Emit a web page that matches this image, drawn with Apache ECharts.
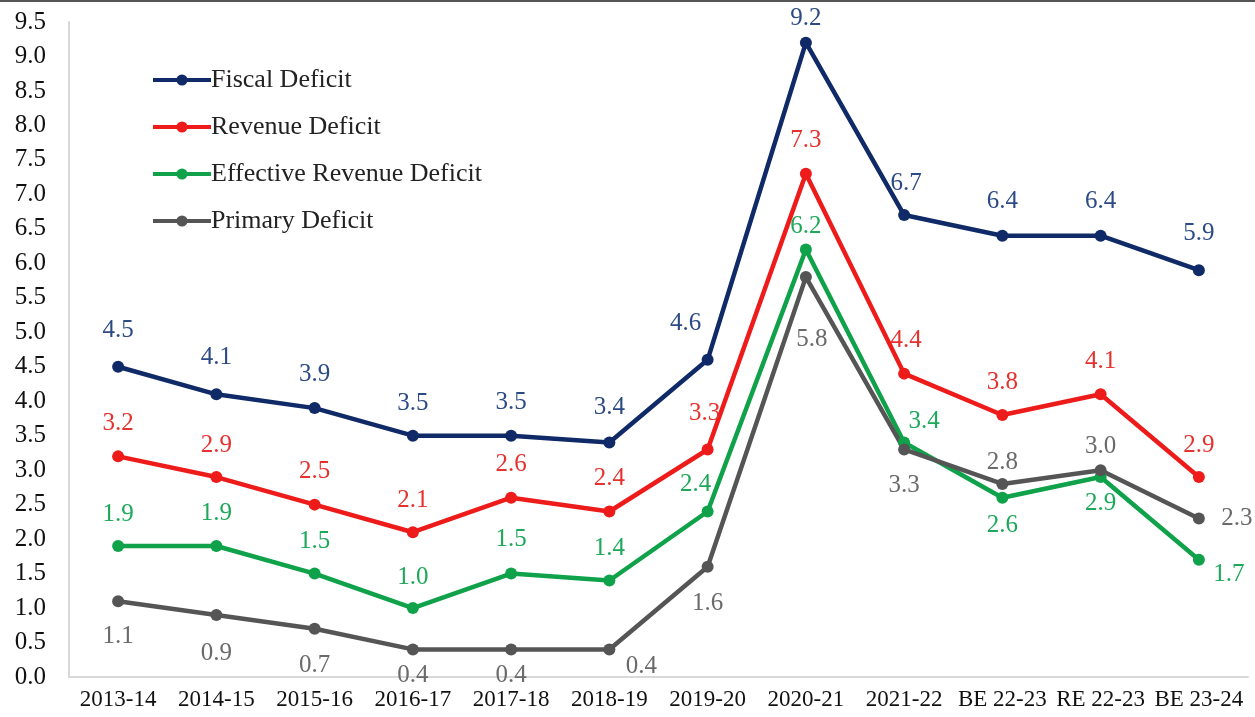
<!DOCTYPE html>
<html><head><meta charset="utf-8">
<script src="https://cdn.jsdelivr.net/npm/echarts@6/dist/echarts.min.js"></script>
<style>html,body{margin:0;padding:0;background:#fff}#c{width:1255px;height:717px}</style>
</head><body><div id="c"></div>
<script>
const categories = ['2013-14','2014-15','2015-16','2016-17','2017-18','2018-19','2019-20','2020-21','2021-22','BE 22-23','RE 22-23','BE 23-24'];
const fiscalDeficit = [4.5,4.1,3.9,3.5,3.5,3.4,4.6,9.2,6.7,6.4,6.4,5.9];
const revenueDeficit = [3.2,2.9,2.5,2.1,2.6,2.4,3.3,7.3,4.4,3.8,4.1,2.9];
const effectiveRevenueDeficit = [1.9,1.9,1.5,1.0,1.5,1.4,2.4,6.2,3.4,2.6,2.9,1.7];
const primaryDeficit = [1.1,0.9,0.7,0.4,0.4,0.4,1.6,5.8,3.3,2.8,3.0,2.3];
const yTicks = {min:0, max:9.5, interval:0.5};

// label offsets (pixels from point centre) — styling only
const fdOff = [[0,-36],[0,-37],[0,-34],[0,-32],[0,-33],[0,-35],[-22,-36],[0,-24],[2,-32],[0,-34],[0,-34],[0,-37]];
const rdOff = [[0,-33],[0,-32],[0,-33],[0,-32],[0,-33],[0,-33],[-3,-36],[0,-33],[2,-33],[0,-33],[0,-33],[0,-32]];
const erdOff = [[0,-32],[0,-33],[0,-32],[0,-31],[0,-34],[0,-32],[-12,-27],[0,-23],[20,-21],[0,28],[0,26],[30,15]];
const pdOff = [[0,35],[0,38],[0,37],[0,26],[0,26],[32,17],[0,37],[6,62],[0,36],[0,-22],[0,-24],[38,0]];

function build(vals, off){
  return vals.map((v,i)=>({value:v, label:{position:'inside', offset:off[i]}}));
}
const font = 'Liberation Serif';
function series(name, vals, off, color, labColor){
  return {
    name, type:'line', data: build(vals,off), symbol:'circle', symbolSize:12,
    lineStyle:{width:4.5,color}, itemStyle:{color},
    label:{show:true, color:labColor, fontFamily:font, fontSize:25, formatter:p=>p.value.toFixed(1)},
    emphasis:{disabled:true}
  };
}
const chart = echarts.init(document.getElementById('c'));
chart.setOption({
  animation:false,
  backgroundColor:'#fff',
  graphic:[{type:'rect', shape:{x:0,y:0,width:1255,height:2}, style:{fill:'#555'}}],
  grid:{left:69, right:7, top:22, bottom:40},
  legend:{
    orient:'vertical', left:146, top:62, itemWidth:58, itemHeight:14, itemGap:21,
    lineStyle:{width:4},
    textStyle:{fontFamily:font, fontSize:26, lineHeight:26, color:'#222', padding:[0,0,0,-5]},
    data:['Fiscal Deficit','Revenue Deficit','Effective Revenue Deficit','Primary Deficit']
  },
  xAxis:{
    type:'category', data:categories, boundaryGap:true,
    axisLine:{lineStyle:{color:'#d9d9d9', width:2}}, axisTick:{show:false},
    axisLabel:{fontFamily:font, fontSize:23, color:'#111', margin:11, interval:0}
  },
  yAxis:{
    type:'value', min:yTicks.min, max:yTicks.max, interval:yTicks.interval,
    axisLine:{show:true, lineStyle:{color:'#d9d9d9', width:2}}, axisTick:{show:false},
    splitLine:{show:false},
    axisLabel:{fontFamily:font, fontSize:25, color:'#111', margin:23, formatter:v=>v.toFixed(1)}
  },
  series:[
    series('Fiscal Deficit', fiscalDeficit, fdOff, '#0f2a66', '#2c4a85'),
    series('Revenue Deficit', revenueDeficit, rdOff, '#ee1b1b', '#e5322f'),
    series('Effective Revenue Deficit', effectiveRevenueDeficit, erdOff, '#0fa24a', '#1ea85a'),
    series('Primary Deficit', primaryDeficit, pdOff, '#555555', '#6a6a6a')
  ]
});
</script></body></html>
